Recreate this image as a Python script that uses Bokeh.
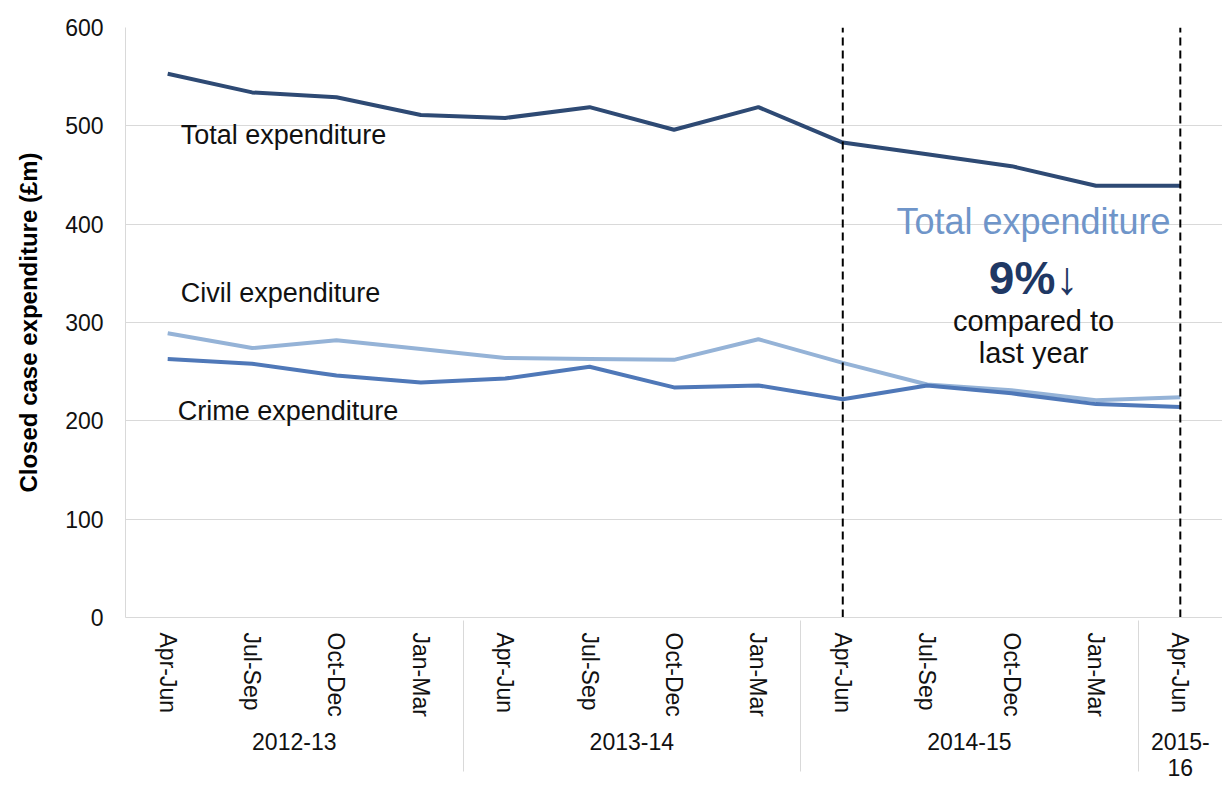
from bokeh.plotting import figure
from bokeh.models import FactorRange, Range1d, ColumnDataSource
from bokeh.core.properties import value
from bokeh.embed import file_html
from bokeh.resources import INLINE

years = ["2012-13", "2012-13", "2012-13", "2012-13",
         "2013-14", "2013-14", "2013-14", "2013-14",
         "2014-15", "2014-15", "2014-15", "2014-15",
         "2015-\n16"]
quarters = ["Apr-Jun", "Jul-Sep", "Oct-Dec", "Jan-Mar",
            "Apr-Jun", "Jul-Sep", "Oct-Dec", "Jan-Mar",
            "Apr-Jun", "Jul-Sep", "Oct-Dec", "Jan-Mar",
            "Apr-Jun"]
total = [553, 534, 529, 511, 508, 519, 496, 519, 483, 471, 459, 439, 439]
civil = [289, 274, 282, 273, 264, 263, 262, 283, 259, 237, 231, 221, 224]
crime = [263, 258, 246, 239, 243, 255, 234, 236, 222, 236, 228, 217, 214]
y_ticks = [0, 100, 200, 300, 400, 500, 600]

FONT = "Liberation Sans"
TOTAL_C = "#2E4A74"
CIVIL_C = "#95B3D7"
CRIME_C = "#4F78B8"

x = [(y, q) for y, q in zip(years, quarters)]
src = ColumnDataSource(dict(x=x, total=total, civil=civil, crime=crime))

p = figure(x_range=FactorRange(*x, range_padding=0, factor_padding=0, group_padding=0, subgroup_padding=0),
           y_range=Range1d(0, 600),
           width=1222, height=783, output_backend="svg", toolbar_location=None,
           min_border_left=125, min_border_right=0, min_border_top=27, min_border_bottom=161)
p.outline_line_color = None
p.background_fill_color = "white"
p.border_fill_color = "white"

p.line("x", "civil", source=src, line_color=CIVIL_C, line_width=4)
p.line("x", "crime", source=src, line_color=CRIME_C, line_width=4)
p.line("x", "total", source=src, line_color=TOTAL_C, line_width=4)

# dashed reference lines
p.segment(x0=[x[8], x[12]], y0=[0, 0], x1=[x[8], x[12]], y1=[600, 600],
          line_color="black", line_width=2, line_dash="8 5")

# series labels
p.text(x=[x[0], x[0], x[0]], y=[491, 330, 210],
       text=["Total expenditure", "Civil expenditure", "Crime expenditure"],
       x_offset=[13, 13, 10], text_font=value(FONT), text_font_size="27px",
       text_color="#111111", text_baseline="middle", text_align="left")

# annotation
p.text(x=[x[10]], y=[403], text=["Total expenditure"], x_offset=[22],
       text_font=value(FONT), text_font_size="36px", text_color="#6F95C9",
       text_align="center", text_baseline="middle")
p.text(x=[x[10]], y=[345], text=["9%\u2193"], x_offset=[22],
       text_font=value(FONT), text_font_size="46px", text_font_style="bold",
       text_color="#1F3864", text_align="center", text_baseline="middle")
p.text(x=[x[10], x[10]], y=[302, 269], text=["compared to", "last year"], x_offset=[22, 22],
       text_font=value(FONT), text_font_size="29px", text_color="#111111",
       text_align="center", text_baseline="middle")

# grid
p.xgrid.grid_line_color = None
p.ygrid.grid_line_color = "#D9D9D9"
p.ygrid.grid_line_width = 1
p.yaxis.ticker = y_ticks

# y axis
p.yaxis.axis_label = "Closed case expenditure (\u00a3m)"
p.yaxis.axis_label_text_font = FONT
p.yaxis.axis_label_text_font_size = "24px"
p.yaxis.axis_label_text_font_style = "bold"
p.yaxis.axis_label_text_color = "black"
p.yaxis.axis_label_standoff = 20
p.yaxis.major_label_text_font = FONT
p.yaxis.major_label_text_font_size = "23px"
p.yaxis.major_label_text_color = "#111111"
p.yaxis.major_label_standoff = 16
p.yaxis.axis_line_color = "#D9D9D9"
p.yaxis.major_tick_line_color = None
p.yaxis.minor_tick_line_color = None

# x axis
p.xaxis.axis_line_color = "#D9D9D9"
p.xaxis.major_tick_line_color = None
p.xaxis.minor_tick_line_color = None
p.xaxis.major_label_orientation = "vertical"
p.xaxis.major_label_text_font = FONT
p.xaxis.major_label_text_font_size = "23px"
p.xaxis.major_label_text_color = "#111111"
p.xaxis.major_label_standoff = 9
p.xaxis.group_text_font = FONT
p.xaxis.group_text_font_size = "23px"
p.xaxis.group_text_font_style = "normal"
p.xaxis.group_text_color = "#111111"
p.xaxis.group_text_line_height = 1.0
p.xaxis.separator_line_color = "#D9D9D9"
p.xaxis.separator_line_width = 1

open("out.html", "w").write(file_html(p, INLINE))
